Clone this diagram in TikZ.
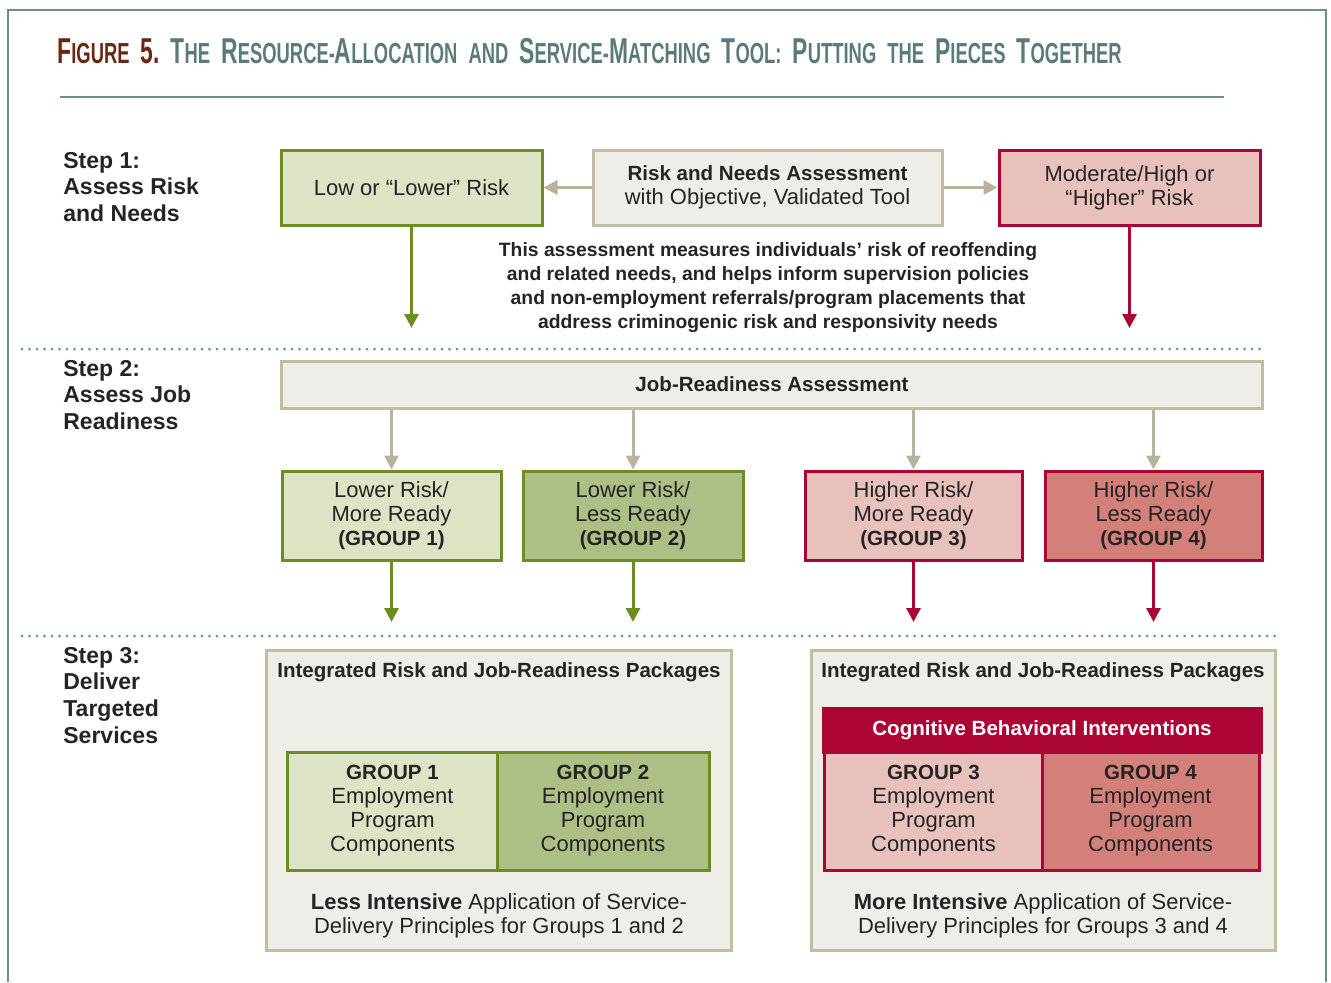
\documentclass[tikz,border=0pt]{standalone}
\usepackage{fontspec}
\setmainfont{Liberation Sans}
\newfontfamily\titlefont[FakeStretch=0.635]{Liberation Sans}
\usetikzlibrary{positioning,arrows.meta}

\definecolor{frameteal}{HTML}{6F8F8F}
\definecolor{titleteal}{HTML}{5B7B7B}
\definecolor{titlebrown}{HTML}{6B2811}
\definecolor{txtdark}{HTML}{262324}
\definecolor{grnline}{HTML}{6B8E23}
\definecolor{grnlight}{HTML}{DCE4C5}
\definecolor{grnmid}{HTML}{AEBF85}
\definecolor{redline}{HTML}{AD0436}
\definecolor{redlight}{HTML}{E8C1BC}
\definecolor{redmid}{HTML}{D3807B}
\definecolor{tanline}{HTML}{C3BCA3}
\definecolor{tanarrow}{HTML}{B9B39B}
\definecolor{greyfill}{HTML}{EFEDE8}

\newcommand{\regfont}{\fontsize{12.5}{13.66}\selectfont}
\newcommand{\boldsz}{\fontsize{11.7}{13.66}\selectfont\bfseries}
\newcommand{\notefont}{\fontsize{11}{13.66}\selectfont\bfseries}
\newcommand{\steplabelfont}{\fontsize{13.1}{15.1}\selectfont\bfseries}
\newcommand{\capsm}[2]{{\fontsize{20.5}{20.5}\selectfont #1}{\fontsize{16.5}{16.5}\selectfont #2}}
\newcommand{\tsp}{\hspace{2.2mm}}

\begin{document}
\begin{tikzpicture}[x=0.2mm, y=-0.2mm, >={Triangle[length=2.8mm,width=2.8mm]},
    box/.style={draw, line width=0.6mm, align=center, inner sep=0pt, text=txtdark, font=\regfont},
    greybox/.style={box, draw=tanline, fill=greyfill},
    lowbox/.style={box, draw=grnline, fill=grnlight},
    midgrn/.style={box, draw=grnline, fill=grnmid},
    highbox/.style={box, draw=redline, fill=redlight},
    midred/.style={box, draw=redline, fill=redmid},
    riskbox/.style={minimum width=52.2mm, minimum height=15mm},
    grpsize/.style={minimum height=17.8mm},
    compsize/.style={minimum height=23.6mm},
    steplabel/.style={anchor=north west, align=left, font=\steplabelfont, text=txtdark, inner sep=0pt},
    plaintext/.style={align=center, inner sep=0pt, text=txtdark},
    tanarr/.style={->, draw=tanarrow, line width=0.6mm},
    grnarr/.style={->, draw=grnline, line width=0.6mm},
    redarr/.style={->, draw=redline, line width=0.6mm},
    dotrule/.style={draw=frameteal, line width=0.6mm, line cap=round, dash pattern=on 0pt off 1.5mm}]

    \useasboundingbox (0,0) rectangle (1331,982);

    % frame and title
    \draw[frameteal, line width=0.4mm] (8,982) -- (8,10) -- (1326,10) -- (1326,982);
    \node[anchor=base west, inner sep=0pt, font=\titlefont\bfseries] (title) at (57,63)
        {\textcolor{titlebrown}{\capsm{F}{IGURE}\tsp\capsm{5.}{}}\tsp
         \textcolor{titleteal}{\capsm{T}{HE}\tsp\capsm{R}{ESOURCE-}\capsm{A}{LLOCATION}\tsp\capsm{}{AND}\tsp
         \capsm{S}{ERVICE-}\capsm{M}{ATCHING}\tsp\capsm{T}{OOL:}\tsp\capsm{P}{UTTING}\tsp\capsm{}{THE}\tsp
         \capsm{P}{IECES}\tsp\capsm{T}{OGETHER}}};
    \draw[frameteal, line width=0.3mm] (60,97) -- (1224,97);

    % step 1
    \node[steplabel] (step1) at (63,152) {Step 1:\\Assess Risk\\and Needs};
    \node[lowbox, riskbox] (low) at (411.5,187.5) {Low or “Lower” Risk};
    \node[greybox, minimum width=69.8mm, minimum height=15mm] (rna) at (767.5,187.5)
        {{\boldsz Risk and Needs Assessment}\\with Objective, Validated Tool};
    \node[highbox, riskbox] (mod) at (1129.5,187.5) {Moderate/High or\\“Higher” Risk};
    \node[plaintext, font=\notefont] (note) at (768,288)
        {This assessment measures individuals’ risk of reoffending\\
         and related needs, and helps inform supervision policies\\
         and non-employment referrals/program placements that\\
         address criminogenic risk and responsivity needs};
    \coordinate (lowEnd) at (411.5,328);
    \coordinate (modEnd) at (1129.5,328);
    \draw[tanarr] (rna) -- (low);
    \draw[tanarr] (rna) -- (mod);
    \draw[grnarr] (low) -- (lowEnd);
    \draw[redarr] (mod) -- (modEnd);

    % step 2
    \draw[dotrule] (22,349) -- (1265,349);
    \node[steplabel] (step2) at (63,360) {Step 2:\\Assess Job\\Readiness};
    \node[greybox, minimum width=196mm, minimum height=9.4mm, font=\boldsz] (jra) at (772,384.5) {Job-Readiness Assessment};
    \node[lowbox, grpsize, minimum width=43.8mm] (g1) at (391.5,515.5) {Lower Risk/\\More Ready\\{\boldsz (GROUP 1)}};
    \node[midgrn, grpsize, minimum width=44mm] (g2) at (633,515.5) {Lower Risk/\\Less Ready\\{\boldsz (GROUP 2)}};
    \node[highbox, grpsize, minimum width=43.4mm] (g3) at (913.5,515.5) {Higher Risk/\\More Ready\\{\boldsz (GROUP 3)}};
    \node[midred, grpsize, minimum width=43.4mm] (g4) at (1153.5,515.5) {Higher Risk/\\Less Ready\\{\boldsz (GROUP 4)}};
    \foreach \g in {g1,g2,g3,g4}
        \draw[tanarr] (jra.south -| \g) -- (\g);
    \coordinate (g1End) at (391.5,622);
    \coordinate (g2End) at (633,622);
    \coordinate (g3End) at (913.5,622);
    \coordinate (g4End) at (1153.5,622);
    \draw[grnarr] (g1) -- (g1End);
    \draw[grnarr] (g2) -- (g2End);
    \draw[redarr] (g3) -- (g3End);
    \draw[redarr] (g4) -- (g4End);

    % step 3
    \draw[dotrule] (22,636) -- (1277,636);
    \node[steplabel] (step3) at (63,647) {Step 3:\\Deliver\\Targeted\\Services};

    \node[greybox, minimum width=92.8mm, minimum height=60mm] (pkgL) at (499,800) {};
    \node[plaintext, font=\boldsz] (pkgLhead) at (499,672) {Integrated Risk and Job-Readiness Packages};
    \node[lowbox, compsize, minimum width=42.2mm] (e1) at (392.5,811) {{\boldsz GROUP 1}\\Employment\\Program\\Components};
    \node[midgrn, compsize, minimum width=42.4mm, right=-0.8mm of e1] (e2) {{\boldsz GROUP 2}\\Employment\\Program\\Components};
    \node[plaintext, font=\regfont] (pkgLfoot) at (499,916)
        {{\bfseries Less Intensive} Application of Service-\\Delivery Principles for Groups 1 and 2};

    \node[greybox, minimum width=92.8mm, minimum height=60mm] (pkgR) at (1043,800) {};
    \node[plaintext, font=\boldsz] (pkgRhead) at (1043,672) {Integrated Risk and Job-Readiness Packages};
    \node[box, draw=redline, fill=redline, text=white, font=\boldsz, minimum width=87.6mm, minimum height=8.8mm] (cbi) at (1042,730) {Cognitive Behavioral Interventions};
    \node[highbox, compsize, minimum width=43.8mm] (e3) at (933.5,811) {{\boldsz GROUP 3}\\Employment\\Program\\Components};
    \node[midred, compsize, minimum width=43.4mm, right=-0.8mm of e3] (e4) {{\boldsz GROUP 4}\\Employment\\Program\\Components};
    \node[plaintext, font=\regfont] (pkgRfoot) at (1043,916)
        {{\bfseries More Intensive} Application of Service-\\Delivery Principles for Groups 3 and 4};

\end{tikzpicture}
\end{document}
